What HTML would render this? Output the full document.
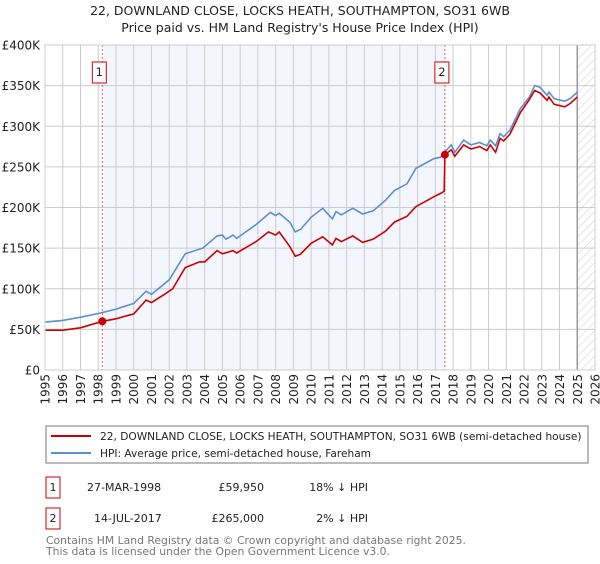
<!DOCTYPE html>
<html><head><meta charset="utf-8"><style>
body{margin:0;background:#fff;font-family:"DejaVu Sans","Liberation Sans",sans-serif;}
svg text{font-family:"DejaVu Sans","Liberation Sans",sans-serif;}
</style></head><body>
<svg id="chart" width="600" height="560" viewBox="0 0 600 560">
<defs><pattern id="hatch" width="6" height="6" patternUnits="userSpaceOnUse" patternTransform="rotate(45)"><line x1="0" y1="0" x2="0" y2="6" stroke="#ccc" stroke-width="1"/></pattern></defs>
<text x="300" y="15" text-anchor="middle" font-size="12.5" fill="#222">22, DOWNLAND CLOSE, LOCKS HEATH, SOUTHAMPTON, SO31 6WB</text>
<text x="300" y="32" text-anchor="middle" font-size="12.5" fill="#222">Price paid vs. HM Land Registry's House Price Index (HPI)</text>
<g id="plot"></g>
<g>
<rect x="46" y="426" width="542" height="37" fill="#fff" stroke="#777"/>
<line x1="51" y1="436" x2="91" y2="436" stroke="#cc0000" stroke-width="2"/>
<text x="100" y="440" font-size="10.6" fill="#222">22, DOWNLAND CLOSE, LOCKS HEATH, SOUTHAMPTON, SO31 6WB (semi-detached house)</text>
<line x1="51" y1="453" x2="91" y2="453" stroke="#5b8fd4" stroke-width="2"/>
<text x="100" y="457" font-size="10.6" fill="#222">HPI: Average price, semi-detached house, Fareham</text>
</g>
<g font-size="11" fill="#222">
<rect x="46" y="477" width="14" height="21" fill="#fff" stroke="#cc0000"/>
<text x="53" y="491" text-anchor="middle">1</text>
<text x="87" y="491">27-MAR-1998</text>
<text x="264" y="491" text-anchor="end">£59,950</text>
<text x="368" y="491" text-anchor="end">18% ↓ HPI</text>
<rect x="46" y="508" width="14" height="21" fill="#fff" stroke="#cc0000"/>
<text x="53" y="522" text-anchor="middle">2</text>
<text x="94" y="522">14-JUL-2017</text>
<text x="264" y="522" text-anchor="end">£265,000</text>
<text x="368" y="522" text-anchor="end">2% ↓ HPI</text>
</g>
<text x="46" y="544" font-size="10.8" fill="#777">Contains HM Land Registry data © Crown copyright and database right 2025.</text>
<text x="46" y="555" font-size="10.8" fill="#777">This data is licensed under the Open Government Licence v3.0.</text>
</svg>
<script>
const yTicks=[0,50,100,150,200,250,300,350,400];
const yTickLabels=["£0","£50K","£100K","£150K","£200K","£250K","£300K","£350K","£400K"];
const xYears=[1995,1996,1997,1998,1999,2000,2001,2002,2003,2004,2005,2006,2007,2008,2009,2010,2011,2012,2013,2014,2015,2016,2017,2018,2019,2020,2021,2022,2023,2024,2025,2026];
const hpiT=[1995,1996,1997,1998.1,1999,2000,2000.7,2001,2002,2002.9,2003.9,2004.7,2005,2005.2,2005.6,2005.8,2006.9,2007.7,2008,2008.2,2008.8,2009.1,2009.4,2010,2010.65,2011.2,2011.4,2011.7,2012.35,2012.9,2013.5,2014.2,2014.7,2015.4,2015.9,2016.9,2017.3,2017.6,2017.9,2018.1,2018.6,2019,2019.5,2019.9,2020.1,2020.4,2020.65,2020.85,2021.2,2021.8,2022.3,2022.6,2022.9,2023.3,2023.4,2023.7,2024.3,2024.6,2025.0];
const hpiV=[59,61,65,70,75,82,97,93,111,143,150,165,166,161,166,162,179,194,190,193,182,170,173,188,199,186,195,191,199,192,196,209,221,229,248,260,262,270,277,268,283,277,280,276,283,276,291,287,295,322,336,350,348,338,342,334,331,334,342];
const propT=[1995,1996,1997,1998.23,1999,2000,2000.7,2001,2001.8,2002.2,2002.9,2003.7,2004,2004.7,2005,2005.6,2005.8,2006.9,2007.6,2008,2008.2,2008.8,2009.1,2009.4,2010,2010.65,2011.2,2011.4,2011.7,2012.35,2012.9,2013.5,2014.2,2014.7,2015.4,2015.9,2016.9,2017.35,2017.5,2017.54,2017.9,2018.1,2018.6,2019,2019.5,2019.9,2020.1,2020.4,2020.65,2020.85,2021.2,2021.8,2022.3,2022.6,2022.9,2023.3,2023.4,2023.7,2024.3,2024.6,2025.0];
const propV=[49,49,52,59.95,63,69,86,83,94,100,126,133,133,147,143,147,144,158,170,166,170,152,140,142.5,156,164,154,162,158,165,157,161,171,182,189,201,213,218,220,265,271,263,277,272,275,270,277,268,285,282,290,317,333,344,341,332,336,327,324,328,336];
const saleT=[1998.23,2017.54];
const saleV=[59.95,265];
const saleLabels=["1","2"];

const L=45,R=595,T=45,B=370,X0=1995,X1=2026,Ymax=400;
const sx=t=>L+(t-X0)/(X1-X0)*(R-L);
const sy=v=>B-v/Ymax*(B-T);
const NS="http://www.w3.org/2000/svg";
const g=document.getElementById('plot');
function mk(tag,attrs,parent){const e=document.createElementNS(NS,tag);for(const k in attrs)e.setAttribute(k,attrs[k]);(parent||g).appendChild(e);return e;}

let e=mk('rect',{x:sx(saleT[0]),y:T,width:sx(saleT[1])-sx(saleT[0]),height:B-T,fill:'#f3f6fd'});


e=mk('rect',{x:sx(2025),y:T,width:R-sx(2025),height:B-T,fill:'url(#hatch)'});



xYears.forEach(y=>{
  const l=mk('line',{x1:sx(y),x2:sx(y),y1:T,y2:B,stroke:'#ccc','stroke-width':1});
  
  
  const t=mk('text',{x:0,y:0,'font-size':12,fill:'#222','text-anchor':'end',transform:`translate(${sx(y)+4.5},${B+4}) rotate(-90)`});
  t.textContent=String(y);
  
  
});
yTicks.forEach((v,i)=>{
  const l=mk('line',{x1:L,x2:R,y1:sy(v),y2:sy(v),stroke:'#ccc','stroke-width':1});
  
  
  const t=mk('text',{x:40,y:sy(v)+4.5,'font-size':12,fill:'#222','text-anchor':'end'});
  t.textContent=yTickLabels[i];
  
  
});
e=mk('line',{x1:sx(2025),x2:sx(2025),y1:T,y2:B,stroke:'#999','stroke-width':1.5});



saleT.forEach((t,i)=>{
  const l=mk('line',{x1:sx(t),x2:sx(t),y1:T,y2:B,stroke:'#e06060','stroke-width':1,'stroke-dasharray':'2,2'});
  
  
});

const path=(ts,vs)=>ts.map((t,i)=>(i?'L':'M')+sx(t).toFixed(1)+','+sy(vs[i]).toFixed(1)).join('');
e=mk('path',{d:path(hpiT,hpiV),fill:'none',stroke:'#5b8fd4','stroke-width':1.6});


e=mk('path',{d:path(propT,propV),fill:'none',stroke:'#cc0000','stroke-width':1.6});



saleT.forEach((t,i)=>{
  const c=mk('circle',{cx:sx(t),cy:sy(saleV[i]),r:4,fill:'#cc0000'});
  
  
  const r=mk('rect',{x:sx(t)-10,y:62,width:14,height:21,fill:'#fff',stroke:'#cc0000'});
  
  
  const tx=mk('text',{x:sx(t)-3,y:76,'font-size':11.5,fill:'#222','text-anchor':'middle'});
  tx.textContent=saleLabels[i];
  
  
});
e=mk('rect',{x:L,y:T,width:R-L,height:B-T,fill:'none',stroke:'#ccc'});


</script>
</body></html>
